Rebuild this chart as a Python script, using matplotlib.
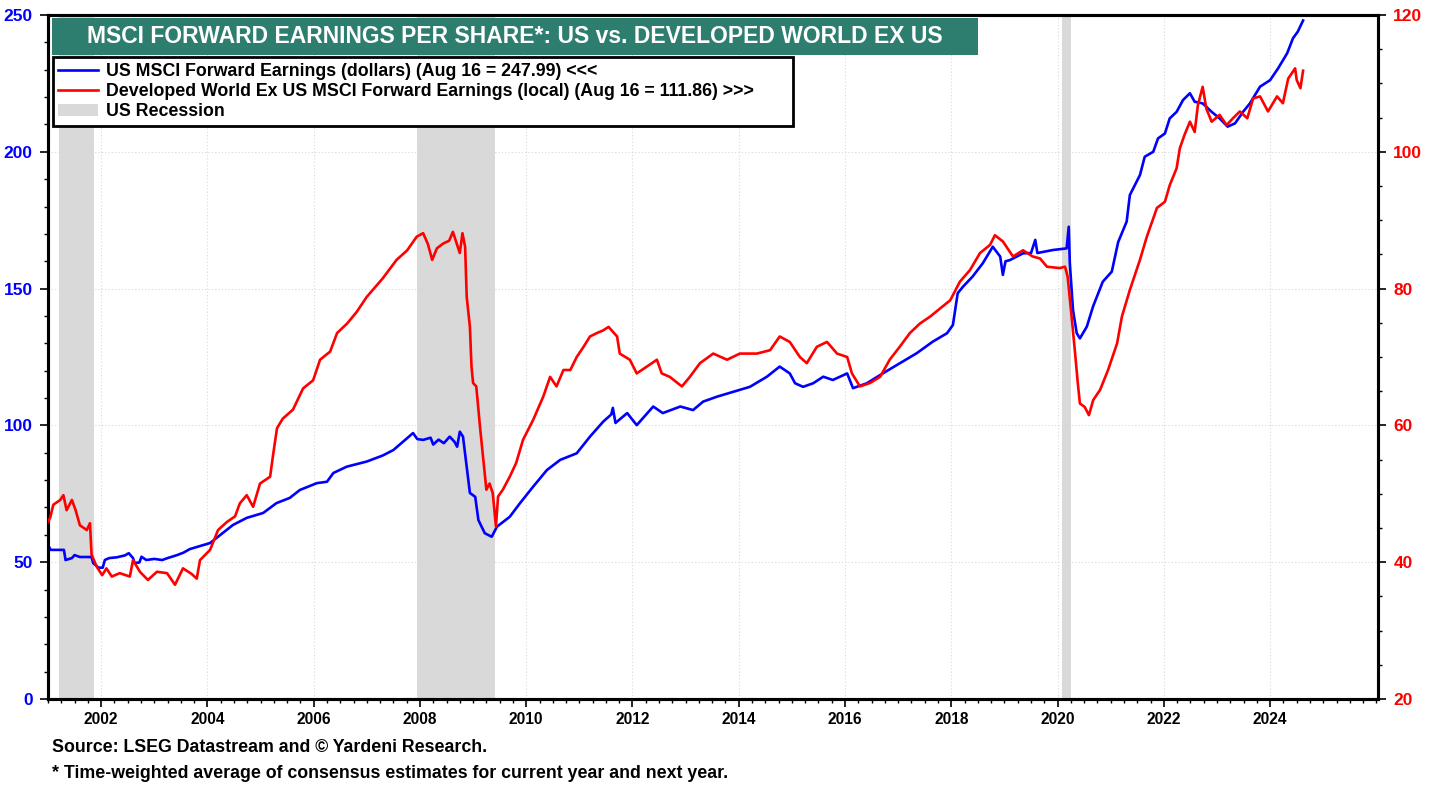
import matplotlib
matplotlib.use("Agg")
import matplotlib.pyplot as plt
from matplotlib.lines import Line2D
from matplotlib.patches import Patch, Rectangle
from matplotlib.ticker import MultipleLocator

plt.rcParams['font.family'] = ['Liberation Sans', 'DejaVu Sans']
plt.rcParams['font.weight'] = 'bold'

# ---- data (decimal years) ----
us_dates = [2001.00, 2001.05, 2001.30, 2001.33, 2001.45, 2001.50, 2001.60, 2001.82, 2001.85, 2001.95,
            2002.03, 2002.07, 2002.15, 2002.30, 2002.45, 2002.52, 2002.60, 2002.63, 2002.72, 2002.76,
            2002.85, 2003.00, 2003.15, 2003.25, 2003.43, 2003.55, 2003.67, 2003.86, 2004.05, 2004.24,
            2004.48, 2004.74, 2005.05, 2005.30, 2005.55, 2005.74, 2006.06, 2006.25, 2006.37, 2006.62,
            2007.00, 2007.30, 2007.50, 2007.68, 2007.87, 2007.95, 2008.06, 2008.20, 2008.25, 2008.35,
            2008.45, 2008.56, 2008.65, 2008.70, 2008.75, 2008.81, 2008.87, 2008.94, 2009.04, 2009.10,
            2009.22, 2009.35, 2009.45, 2009.69, 2009.88, 2010.13, 2010.39, 2010.64, 2010.95, 2011.20,
            2011.45, 2011.60, 2011.63, 2011.68, 2011.90, 2012.08, 2012.39, 2012.57, 2012.90, 2013.14,
            2013.33, 2013.59, 2013.90, 2014.21, 2014.53, 2014.77, 2014.96, 2015.06, 2015.21, 2015.40,
            2015.59, 2015.77, 2016.04, 2016.15, 2016.41, 2016.71, 2017.03, 2017.35, 2017.65, 2017.92,
            2018.03, 2018.12, 2018.22, 2018.40, 2018.59, 2018.78, 2018.92, 2018.97, 2019.02, 2019.10,
            2019.35, 2019.50, 2019.58, 2019.62, 2019.75, 2019.91, 2020.17, 2020.21, 2020.23, 2020.29,
            2020.36, 2020.42, 2020.55, 2020.67, 2020.85, 2021.02, 2021.14, 2021.30, 2021.36, 2021.55,
            2021.64, 2021.80, 2021.89, 2022.02, 2022.11, 2022.24, 2022.36, 2022.49, 2022.58, 2022.73,
            2022.90, 2023.05, 2023.20, 2023.34, 2023.49, 2023.62, 2023.81, 2024.00, 2024.15, 2024.32,
            2024.43, 2024.52, 2024.62]
us_values = [56.3, 54.5, 54.5, 50.8, 51.5, 52.6, 51.9, 51.9, 49.7, 48.0,
             48.0, 50.8, 51.5, 51.8, 52.5, 53.3, 51.5, 49.7, 49.9, 52.0,
             50.8, 51.2, 50.8, 51.5, 52.6, 53.5, 54.8, 55.9, 57.0, 59.9,
             63.6, 66.2, 68.0, 71.6, 73.5, 76.4, 78.9, 79.4, 82.6, 84.9,
             86.8, 89.0, 91.0, 94.0, 97.2, 95.0, 94.7, 95.5, 93.0, 94.8,
             93.5, 95.9, 94.0, 92.2, 97.7, 95.9, 86.3, 75.3, 73.9, 65.4,
             60.6, 59.3, 63.0, 66.6, 71.5, 77.6, 83.7, 87.4, 89.8, 95.9,
             101.4, 104.0, 106.4, 100.9, 104.5, 100.1, 106.9, 104.5, 106.9, 105.6,
             108.7, 110.5, 112.3, 114.1, 117.8, 121.5, 119.0, 115.4, 114.1, 115.4,
             117.8, 116.6, 119.0, 113.6, 115.4, 119.0, 122.7, 126.4, 130.6, 133.7,
             136.7, 148.3, 150.7, 154.4, 159.2, 165.3, 161.7, 155.0, 160.0, 160.4,
             162.9, 163.0, 167.8, 163.0, 163.5, 164.1, 164.7, 172.6, 159.4, 142.2,
             133.7, 131.8, 136.1, 143.6, 152.5, 156.2, 167.0, 174.5, 184.2, 191.5,
             198.2, 200.0, 204.9, 206.7, 212.2, 214.6, 218.9, 221.4, 218.3, 217.7,
             214.6, 212.2, 209.2, 210.4, 214.6, 217.7, 223.8, 226.2, 230.5, 236.0,
             241.5, 243.9, 247.99]

dw_dates = [2001.00, 2001.04, 2001.10, 2001.23, 2001.29, 2001.35, 2001.45, 2001.52, 2001.60, 2001.73,
            2001.79, 2001.82, 2001.92, 2002.02, 2002.10, 2002.20, 2002.35, 2002.54, 2002.60, 2002.73,
            2002.88, 2003.05, 2003.24, 2003.39, 2003.54, 2003.70, 2003.80, 2003.86, 2004.05, 2004.20,
            2004.37, 2004.52, 2004.61, 2004.74, 2004.86, 2004.99, 2005.18, 2005.24, 2005.31, 2005.42,
            2005.61, 2005.80, 2005.99, 2006.12, 2006.31, 2006.44, 2006.63, 2006.81, 2007.00, 2007.19,
            2007.30, 2007.56, 2007.76, 2007.94, 2008.06, 2008.15, 2008.23, 2008.32, 2008.44, 2008.55,
            2008.62, 2008.75, 2008.80, 2008.85, 2008.88, 2008.94, 2008.97, 2009.00, 2009.06, 2009.13,
            2009.22, 2009.25, 2009.31, 2009.37, 2009.43, 2009.47, 2009.56, 2009.69, 2009.81, 2009.94,
            2010.13, 2010.32, 2010.45, 2010.57, 2010.70, 2010.83, 2010.95, 2011.08, 2011.20, 2011.33,
            2011.45, 2011.55, 2011.71, 2011.76, 2011.95, 2012.08, 2012.27, 2012.46, 2012.55, 2012.70,
            2012.93, 2013.08, 2013.27, 2013.52, 2013.78, 2014.02, 2014.34, 2014.59, 2014.77, 2014.96,
            2015.15, 2015.28, 2015.47, 2015.66, 2015.85, 2016.04, 2016.13, 2016.28, 2016.47, 2016.66,
            2016.84, 2017.03, 2017.22, 2017.41, 2017.60, 2017.79, 2017.98, 2018.16, 2018.35, 2018.54,
            2018.73, 2018.82, 2018.97, 2019.16, 2019.35, 2019.53, 2019.67, 2019.80, 2020.04, 2020.14,
            2020.19, 2020.27, 2020.33, 2020.38, 2020.42, 2020.51, 2020.59, 2020.67, 2020.80, 2020.95,
            2021.12, 2021.21, 2021.36, 2021.55, 2021.68, 2021.87, 2022.02, 2022.11, 2022.24, 2022.30,
            2022.39, 2022.49, 2022.58, 2022.64, 2022.73, 2022.80, 2022.90, 2023.05, 2023.18, 2023.30,
            2023.43, 2023.57, 2023.68, 2023.81, 2023.96, 2024.13, 2024.24, 2024.34, 2024.47, 2024.50,
            2024.57, 2024.62]
dw_values = [45.9, 46.5, 48.4, 49.1, 49.8, 47.6, 49.1, 47.6, 45.4, 44.7,
             45.7, 41.1, 39.3, 38.1, 39.1, 37.9, 38.4, 37.9, 40.3, 38.6,
             37.4, 38.6, 38.4, 36.7, 39.1, 38.3, 37.6, 40.3, 41.8, 44.7,
             45.9, 46.7, 48.6, 49.8, 48.1, 51.5, 52.5, 55.9, 59.6, 61.0,
             62.3, 65.4, 66.6, 69.6, 70.8, 73.5, 74.9, 76.6, 78.8, 80.5,
             81.5, 84.2, 85.6, 87.6, 88.1, 86.5, 84.2, 85.9, 86.6, 87.0,
             88.3, 85.2, 88.1, 86.1, 78.8, 74.4, 68.6, 66.2, 65.7, 59.8,
             53.0, 50.6, 51.5, 50.1, 45.2, 49.6, 50.6, 52.5, 54.5, 57.9,
             60.8, 64.2, 67.1, 65.7, 68.1, 68.1, 70.0, 71.5, 73.0, 73.5,
             73.9, 74.4, 73.0, 70.5, 69.6, 67.6, 68.6, 69.6, 67.6, 67.1,
             65.7, 67.1, 69.1, 70.5, 69.6, 70.5, 70.5, 71.0, 73.0, 72.2,
             70.0, 69.1, 71.5, 72.2, 70.5, 70.0, 67.6, 65.7, 66.2, 67.1,
             69.6, 71.5, 73.5, 74.9, 75.9, 77.1, 78.3, 81.0, 82.7, 85.2,
             86.4, 87.8, 86.9, 84.7, 85.6, 84.7, 84.4, 83.2, 83.0, 83.2,
             81.7, 75.4, 70.5, 66.2, 63.2, 62.7, 61.5, 63.7, 65.2, 68.1,
             72.0, 75.9, 79.8, 84.2, 87.6, 91.8, 92.7, 95.1, 97.6, 100.5,
             102.5, 104.4, 102.9, 106.8, 109.5, 106.3, 104.4, 105.4, 103.9, 104.9,
             105.9, 104.9, 107.8, 108.1, 105.9, 108.1, 107.1, 110.7, 112.2, 110.5,
             109.3, 111.86]

recession_starts = [2001.21, 2007.95, 2020.08]
recession_ends = [2001.87, 2009.42, 2020.25]

title_text = "MSCI FORWARD EARNINGS PER SHARE*: US vs. DEVELOPED WORLD EX US"
legend_labels = ["US MSCI Forward Earnings (dollars) (Aug 16 = 247.99) <<<",
                 "Developed World Ex US MSCI Forward Earnings (local) (Aug 16 = 111.86) >>>",
                 "US Recession"]
x_ticks = list(range(2002, 2026, 2))

BLUE = '#0000ff'
RED = '#ff0000'
REC = '#d9d9d9'
TEAL = '#2e7e70'

fig = plt.figure(figsize=(14.38, 7.87), dpi=100)
ax = fig.add_axes([48/1438, 1-699/787, (1378-48)/1438, (699-15)/787])
ax2 = ax.twinx()

for s, e in zip(recession_starts, recession_ends):
    ax.axvspan(s, e, color=REC, lw=0, zorder=0)

ax.set_xlim(2001.0, 2026.03)
ax.set_ylim(0, 250)
ax2.set_ylim(20, 120)

ax.grid(True, which='major', color='#d8d8d8', linestyle=(0, (1, 2)), linewidth=0.8)
ax.set_axisbelow(True)

ax.plot(us_dates, us_values, color=BLUE, lw=1.9, zorder=3)
ax2.plot(dw_dates, dw_values, color=RED, lw=1.9, zorder=3)

ax.set_xticks(x_ticks)
ax.set_xticklabels([str(t) for t in x_ticks])
ax.xaxis.set_minor_locator(MultipleLocator(0.25))
ax.yaxis.set_major_locator(MultipleLocator(50))
ax.yaxis.set_minor_locator(MultipleLocator(10))
ax2.yaxis.set_major_locator(MultipleLocator(20))
ax2.yaxis.set_minor_locator(MultipleLocator(5))

ax.tick_params(axis='x', which='major', length=6, width=1.2, labelsize=11.2, pad=3, colors='black')
ax.tick_params(axis='x', which='minor', length=3, width=1.0)
ax.tick_params(axis='y', which='major', length=6, width=1.2, labelsize=12.5, labelcolor=BLUE, pad=5)
ax.tick_params(axis='y', which='minor', length=3, width=1.0)
ax2.tick_params(axis='y', which='major', length=6, width=1.2, labelsize=12.5, labelcolor=RED, pad=5)
ax2.tick_params(axis='y', which='minor', length=3, width=1.0)
for lab in ax.get_xticklabels() + ax.get_yticklabels() + ax2.get_yticklabels():
    lab.set_fontweight('bold')

for a in (ax, ax2):
    for sp in a.spines.values():
        sp.set_linewidth(2.2)
        sp.set_color('black')

# title box
ax2.add_patch(Rectangle((0.003, 0.9415), 0.696, 0.054, transform=ax2.transAxes,
                        facecolor=TEAL, edgecolor='none', zorder=5, clip_on=False))
ax2.text(0.351, 0.9685, title_text, transform=ax2.transAxes, ha='center', va='center',
         color='white', fontsize=16.5, fontweight='bold', zorder=6)

handles = [Line2D([], [], color=BLUE, lw=1.9),
           Line2D([], [], color=RED, lw=1.9),
           Patch(facecolor=REC, edgecolor='none')]
leg_w = (793 - 53) / 1330
leg = ax2.legend(handles, legend_labels, loc='upper left',
                 bbox_to_anchor=(0.0038, 0.838, leg_w, 0.1), mode='expand',
                 borderaxespad=0, fancybox=False, frameon=True, edgecolor='black',
                 framealpha=1.0,
                 prop={'weight': 'bold', 'size': 12.8}, handlelength=2.25, handletextpad=0.45,
                 labelspacing=0.19, borderpad=0.3)
leg.get_frame().set_linewidth(2.0)
leg.set_zorder(7)

fig.text(52/1438, 1-748/787, "Source: LSEG Datastream and \u00a9 Yardeni Research.",
         fontsize=12.8, fontweight='bold', va='center', ha='left')
fig.text(52/1438, 1-773/787, "* Time-weighted average of consensus estimates for current year and next year.",
         fontsize=12.8, fontweight='bold', va='center', ha='left')

fig.savefig('out.png', dpi=100)
